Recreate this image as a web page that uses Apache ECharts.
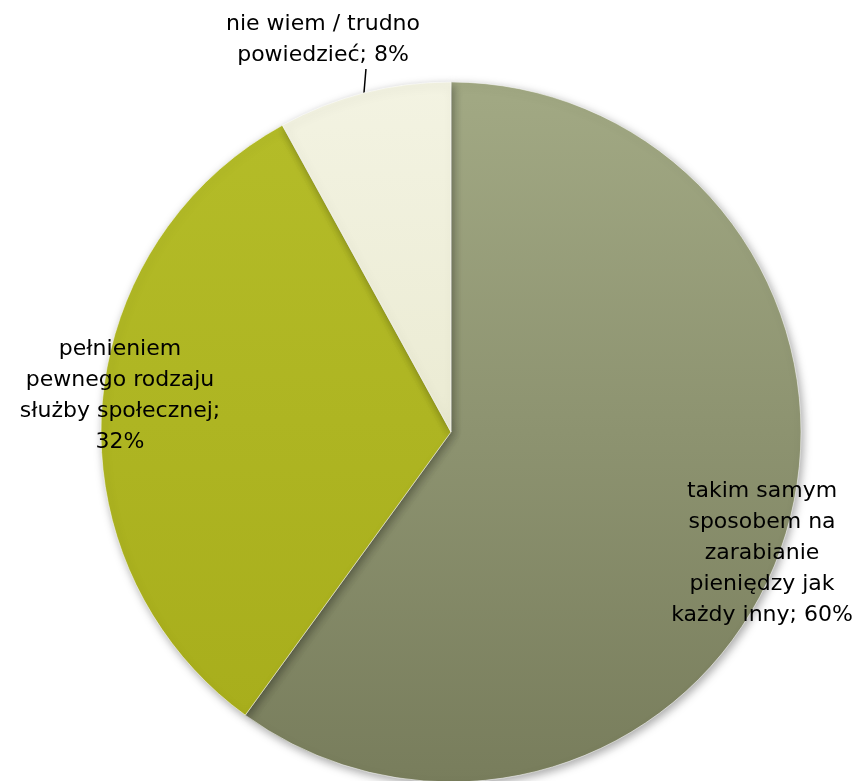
<!DOCTYPE html>
<html><head><meta charset="utf-8">
<script src="https://cdn.jsdelivr.net/npm/echarts@6/dist/echarts.min.js"></script>
<style>html,body{margin:0;padding:0;background:#fff}#c{width:861px;height:781px}</style>
</head><body><div id="c"></div>
<script>
const categories = [
  'takim samym\nsposobem na\nzarabianie\npieniędzy jak\nkażdy inny',
  'pełnieniem\npewnego rodzaju\nsłużby społecznej;\n',
  'nie wiem / trudno\npowiedzieć'
];
const values = [60, 32, 8];
const colors = [
  ['#a2a984', '#787d5c'],
  ['#b4bc28', '#a8ae1c'],
  ['#f3f3e2', '#ebebd3']
];

const chart = echarts.init(document.getElementById('c'));
const data = categories.map((n, i) => ({
  name: n, value: values[i],
  itemStyle: { color: new echarts.graphic.LinearGradient(0, 0, 0, 1, [
    { offset: 0, color: colors[i][0] }, { offset: 1, color: colors[i][1] }]) },
  label: i === 2 ? { position: 'outside' } : { position: 'inside' },
  labelLine: { show: i === 2, length: 22, length2: 0, lineStyle: { color: '#000', width: 1.5 } }
}));

chart.setOption({
  animation: false,
  series: [{
    type: 'pie',
    center: [451, 432],
    radius: 350,
    startAngle: 90,
    clockwise: true,
    data: data,
    itemStyle: {
      borderColor: 'rgba(255,255,255,0.55)', borderWidth: 1,
      shadowBlur: 10, shadowColor: 'rgba(0,0,0,0.35)', shadowOffsetX: 2, shadowOffsetY: 3
    },
    label: {
      show: true,
      color: '#000',
      fontFamily: 'DejaVu Sans',
      fontSize: 22,
      lineHeight: 31,
      align: 'center',
      formatter: p => p.dataIndex === 1 ? p.name + p.value + '%' : p.name + '; ' + p.value + '%'
    },
    labelLayout: function (p) {
      if (p.dataIndex === 0) return { x: 762, y: 553, align: 'center', verticalAlign: 'middle' };
      if (p.dataIndex === 1) return { x: 120, y: 396, align: 'center', verticalAlign: 'middle' };
      const p0 = p.labelLinePoints[0];
      return {
        x: 323, y: 40, align: 'center', verticalAlign: 'middle',
        labelLinePoints: [p0, [p0[0] + 2, p0[1] - 24], [p0[0] + 2, p0[1] - 24]]
      };
    }
  }]
});
</script></body></html>
